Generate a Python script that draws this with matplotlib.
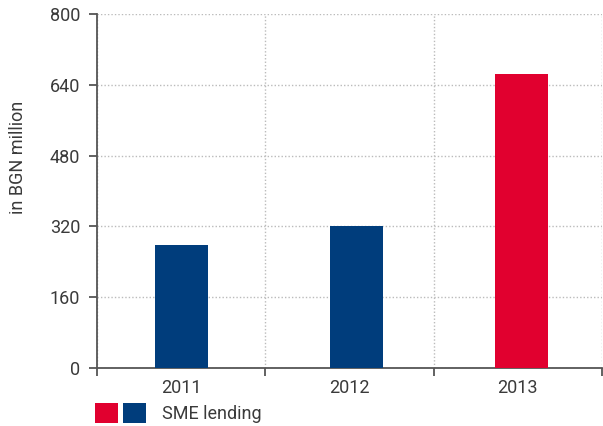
import matplotlib
matplotlib.use("Agg")
import matplotlib.pyplot as plt
from matplotlib.patches import Patch
from matplotlib.legend_handler import HandlerTuple

years = ["2011", "2012", "2013"]
values = [278, 321, 664]
bar_colors = ["#003D7C", "#003D7C", "#E1002F"]
y_ticks = [0, 160, 320, 480, 640, 800]
series_label = "SME lending"
y_label = "in BGN million"

# small horizontal offsets of the bars inside their slots (layout detail)
bar_offsets = [0.0, 0.04, 0.02]

plt.rcParams['font.family'] = ['Roboto', 'Liberation Sans', 'DejaVu Sans']
text_color = "#3a3a3a"
spine_color = "#555555"
fs = 13

fig = plt.figure(figsize=(6.03, 4.26), dpi=100)
ax = fig.add_axes([97/603, 58/426, 505/603, 354/426])

x = list(range(len(years)))
xb = [i + o for i, o in zip(x, bar_offsets)]
ax.bar(xb, values, width=0.315, color=bar_colors, zorder=3)

ax.set_xlim(-0.5, len(years) - 0.5)
ax.set_ylim(0, 800)
ax.set_yticks(y_ticks)
ax.set_yticklabels([str(t) for t in y_ticks])
ax.set_xticks(x)
ax.set_xticklabels(years)
ax.set_xticks([i - 0.5 for i in range(len(years) + 1)], minor=True)

for s in ["top", "right"]:
    ax.spines[s].set_visible(False)
for s in ["left", "bottom"]:
    ax.spines[s].set_color(spine_color)
    ax.spines[s].set_linewidth(1.3)

ax.tick_params(axis='y', which='major', length=6, width=1.3, color=spine_color,
               labelsize=fs, labelcolor=text_color, pad=6)
ax.tick_params(axis='x', which='major', length=0, labelsize=fs,
               labelcolor=text_color, pad=8)
ax.tick_params(axis='x', which='minor', length=6, width=1.3, color=spine_color)

ax.grid(axis='y', which='major', linestyle=(0, (1, 1.5)), color="#bbbbbb", linewidth=1, zorder=0)
ax.grid(axis='x', which='minor', linestyle=(0, (1, 1.5)), color="#bbbbbb", linewidth=1, zorder=0)
ax.set_axisbelow(True)

ax.set_ylabel(y_label, fontsize=fs, color=text_color)
ax.yaxis.set_label_coords(-0.139, 0.596)

h = (Patch(facecolor="#E1002F"), Patch(facecolor="#003D7C"))
fig.legend(handles=[h], labels=[series_label],
           handler_map={tuple: HandlerTuple(ndivide=None, pad=0.28)},
           loc='upper left', bbox_to_anchor=(95/603, 1 - 403/426),
           frameon=False, borderpad=0, borderaxespad=0,
           handlelength=2.82, handleheight=1.3, handletextpad=0.88,
           fontsize=fs, labelcolor=text_color)

fig.savefig("out.png", dpi=100)
